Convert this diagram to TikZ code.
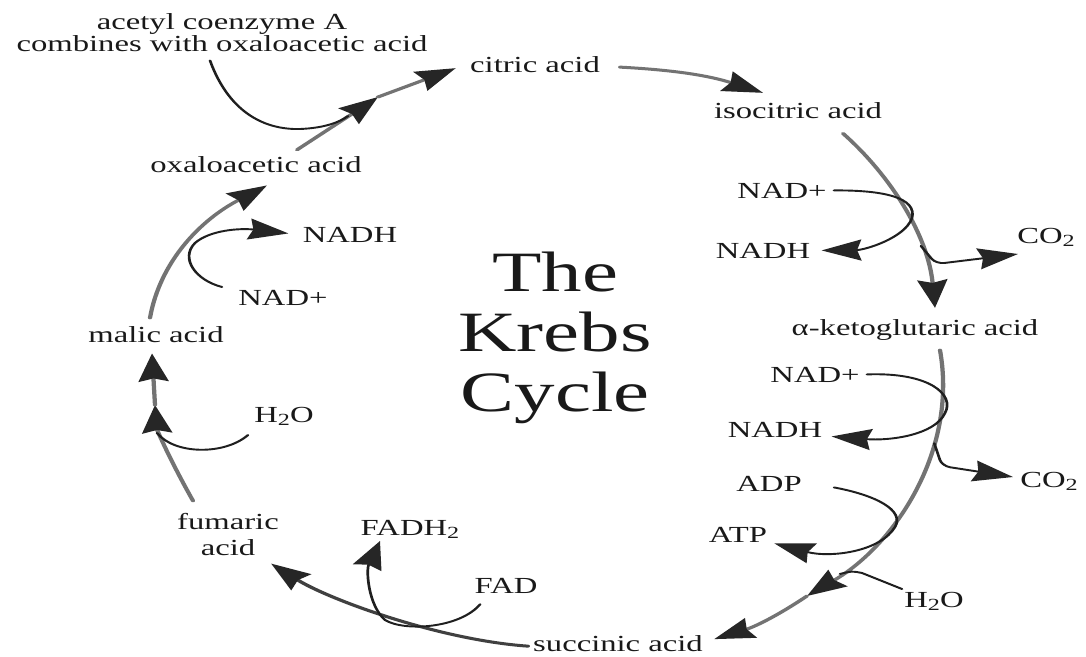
\documentclass[tikz,border=0pt]{standalone}
\usepackage{fontspec}
\setmainfont{Liberation Serif}
\usetikzlibrary{arrows.meta,calc}
\newcommand{\sub}[1]{\raisebox{-0.35ex}{\fontsize{17}{17}\selectfont #1}}
\tikzset{
  lbl/.style={font=\fontsize{23}{22}\selectfont, inner sep=5pt, anchor=base, text=black!90},
  ttl/.style={font=\fontsize{57}{60}\selectfont, inner sep=0pt, align=center, text=black!90},
  ktip/.style={-{Stealth[length=28pt,width=21pt,inset=3pt,color=black!85]}},
  main/.style={draw=black!55, line width=3pt, line cap=round, ktip},
  side/.style={draw=black!88, line width=1.9pt, line cap=round, ktip},
}
\begin{document}
\begin{tikzpicture}[x=1pt,y=-1pt]
\path[use as bounding box, fill=white] (0,0) rectangle (1086,656);
\begin{scope}[transform canvas={xscale=1.42}, x=0.70423pt]
% labels
\node[ttl] (title) at (555,337.7) {The\\Krebs\\Cycle};
\node[lbl, anchor=center, align=center] (acetyl) at (222,32.2) {acetyl coenzyme A\\combines with oxaloacetic acid};
\node[lbl] (citric) at (535,72) {citric acid};
\node[lbl] (isocit) at (798,118) {isocitric acid};
\node[lbl] (nad1) at (782,198) {NAD+};
\node[lbl] (nadh1) at (763,258) {NADH};
\node[lbl] (co2a) at (1046,243) {CO\sub{2}};
\node[lbl] (aketo) at (915,335) {α-ketoglutaric acid};
\node[lbl] (nad2) at (815,382) {NAD+};
\node[lbl] (nadh2) at (775,437) {NADH};
\node[lbl] (co2b) at (1049,487) {CO\sub{2}};
\node[lbl] (adp) at (769,491) {ADP};
\node[lbl] (atp) at (738,542) {ATP};
\node[lbl] (h2oR) at (934,607) {H\sub{2}O};
\node[lbl] (succ) at (618,651) {succinic acid};
\node[lbl] (fad) at (506,593) {FAD};
\node[lbl] (fadh2) at (410,535) {FADH\sub{2}};
\node[lbl, anchor=center, align=center, font=\fontsize{23}{26}\selectfont] (fumaric) at (228,534.2) {fumaric\\acid};
\node[lbl] (h2oL) at (284,422) {H\sub{2}O};
\node[lbl] (malic) at (156,342) {malic acid};
\node[lbl] (nad3) at (283,305) {NAD+};
\node[lbl] (nadh3) at (350,242) {NADH};
\node[lbl] (oxalo) at (256,172) {oxaloacetic acid};
% junction points
\coordinate (m1) at (378,97);
\coordinate (m2) at (807,596);
\coordinate (m3) at (155,405);
% oxaloacetic -> citric
\draw[main] ($(oxalo.north)+(41,-1)$) -- (m1);
\draw[main] (m1) -- ($(citric.west)+(-7,4)$);
\draw[side, arrows=-] ($(acetyl.south)+(-12,4)$) .. controls (228,110) and (262,130) .. (300,129) .. controls (325,128) and (340,122) .. ($(m1)+(-30,19)$);
% citric -> isocitric
\draw[main] ($(citric.east)+(13,3)$) to[bend left=10] ($(isocit.north)+(-35,-4)$);
% isocitric -> alpha-ketoglutaric
\draw[main] ($(isocit.south)+(45,10)$) .. controls (890,175) and (928,235) .. ($(aketo.north)+(20,-6)$) coordinate[pos=0.7] (j1);
\draw[side] (nad1.east) .. controls (885,190) and (917,198) .. (912,218) .. controls (905,238) and (865,250) .. ($(nadh1.east)+(4,0)$);
\draw[side, rounded corners=6pt] (j1) -- (936,264) -- ($(co2a.base)+(-28,11)$);
% alpha-ketoglutaric -> succinic
\draw[main] ($(aketo.south)+(25,5)$) .. controls (958,450) and (895,545) .. (m2) coordinate[pos=0.32] (j2) coordinate[pos=0.87] (j3);
\draw[main] (m2) to[bend left=10] ($(succ.east)+(4,-4)$);
\draw[side] (nad2.east) .. controls (930,372) and (955,395) .. (945,413) .. controls (935,435) and (890,441) .. ($(nadh2.east)+(2,7)$);
\draw[side, rounded corners=6pt] (j2) -- (942,466) -- ($(co2b.base)+(-36,-10)$);
\draw[side] ($(adp.east)+(25,4)$) .. controls (875,495) and (905,510) .. (895,527) .. controls (880,552) and (830,558) .. ($(atp.east)+(0,9)$);
\draw[side, arrows=-] ($(h2oR.base)+(-32,-18)$) -- (862,573) .. controls (852,571) .. (j3);
% succinic -> fumaric
\draw[main, draw=black!75] ($(succ.west)+(2,3)$) .. controls (440,640) and (330,600) .. ($(fumaric.south east)+(-15,3)$);
\draw[side] ($(fad.south west)+(13,6)$) .. controls (460,628) and (405,632) .. (385,620) .. controls (368,605) and (366,570) .. ($(fadh2.base)+(-30,6)$);
% fumaric -> malic
\draw[main] ($(fumaric.north)+(-35,-7)$) .. controls (170,460) and (157,430) .. (m3);
\draw[main] (m3) -- ($(malic.south)+(-4,6)$);
\draw[side, arrows=-] ($(h2oL.base)+(-36,13)$) .. controls (225,455) and (175,455) .. ($(m3)+(2,28)$);
% malic -> oxaloacetic
\draw[main] ($(malic.north)+(-6,-3)$) .. controls (160,262) and (200,220) .. ($(oxalo.south)+(11,8)$);
\draw[side] ($(nad3.base)+(-61,-18)$) .. controls (195,280) and (180,258) .. (195,243) .. controls (210,230) and (240,228) .. ($(nadh3.west)+(-7,-1)$);
\end{scope}
\end{tikzpicture}
\end{document}
